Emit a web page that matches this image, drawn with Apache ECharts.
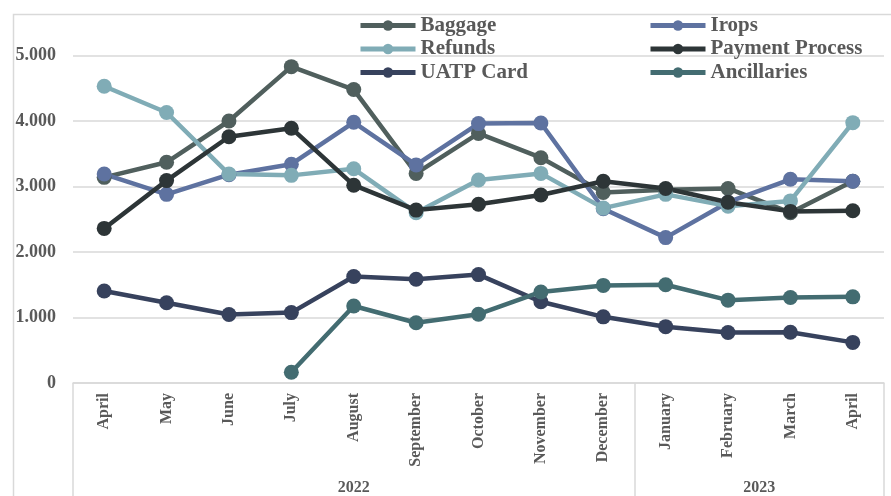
<!DOCTYPE html>
<html>
<head>
<meta charset="utf-8">
<script src="https://cdn.jsdelivr.net/npm/echarts@6/dist/echarts.min.js"></script>
<style>
  html, body { margin: 0; padding: 0; background: #ffffff; }
  #chart { width: 891px; height: 496px; }
</style>
</head>
<body>
<div id="chart"></div>
<script>
// Monthly request volumes, April 2022 – April 2023
const months = ['April', 'May', 'June', 'July', 'August', 'September', 'October',
  'November', 'December', 'January', 'February', 'March', 'April'];
const yearLabels = ['2022', '2023'];
const yearSpans = [9, 4];            // number of months under each year

const baggage        = [3140, 3370, 4000, 4830, 4480, 3200, 3810, 3440, 2910, 2950, 2970, 2600, 3080];
const irops          = [3190, 2880, 3180, 3340, 3980, 3330, 3960, 3970, 2660, 2220, 2760, 3110, 3080];
const refunds        = [4530, 4130, 3190, 3170, 3270, 2600, 3100, 3200, 2670, 2880, 2700, 2780, 3975];
const paymentProcess = [2360, 3090, 3760, 3890, 3020, 2640, 2730, 2870, 3080, 2970, 2760, 2620, 2630];
const uatpCard       = [1405, 1225, 1045, 1075, 1625, 1585, 1655, 1240, 1010, 860, 770, 775, 620];
const ancillaries    = [null, null, null, 165, 1175, 920, 1050, 1390, 1490, 1500, 1265, 1305, 1315];

const yTicks = [0, 1000, 2000, 3000, 4000, 5000];

const seriesDefs = [
  { name: 'Baggage',         data: baggage,        color: '#505f5d' },
  { name: 'Irops',           data: irops,          color: '#5e72a0' },
  { name: 'Refunds',         data: refunds,        color: '#80acb6' },
  { name: 'Payment Process', data: paymentProcess, color: '#2d3537' },
  { name: 'UATP Card',       data: uatpCard,       color: '#37425d' },
  { name: 'Ancillaries',     data: ancillaries,    color: '#436c71' }
];

// year group boundaries and centres in month units
const groupEdges = [0];
const groupCentres = [];
yearSpans.forEach(function (n) {
  const start = groupEdges[groupEdges.length - 1];
  groupCentres.push(start + n / 2);
  groupEdges.push(start + n);
});

const serif = '"Liberation Serif", "Times New Roman", serif';
const textGrey = '#595959';
const lineGrey = '#d9d9d9';

const legendText = { fontFamily: serif, fontWeight: 'bold', fontSize: 21, color: textGrey };
function legendColumn(names, left) {
  return {
    orient: 'vertical', left: left, top: 15, padding: 0,
    itemWidth: 55, itemHeight: 13, itemGap: 2.5,
    lineStyle: { width: 5 },
    data: names, textStyle: legendText, selectedMode: false
  };
}

const chart = echarts.init(document.getElementById('chart'), null, { renderer: 'canvas' });
chart.setOption({
  animation: false,
  backgroundColor: '#ffffff',
  graphic: [{
    type: 'rect', left: 11, top: 12, silent: true,
    shape: { width: 900, height: 520 },
    style: { fill: 'none', stroke: lineGrey, lineWidth: 1.5 }
  }],
  legend: [
    legendColumn(['Baggage', 'Refunds', 'UATP Card'], 358),
    legendColumn(['Irops', 'Payment Process', 'Ancillaries'], 648)
  ],
  grid: { left: 73, right: 7, top: 55.5, bottom: 111, containLabel: false },
  xAxis: [{
    type: 'category',
    data: months,
    boundaryGap: true,
    axisLine: { show: true, lineStyle: { color: lineGrey, width: 1.5 } },
    axisTick: { show: false },
    axisLabel: {
      interval: 0, rotate: 90, margin: 10,
      fontFamily: serif, fontWeight: 'bold', fontSize: 16, color: textGrey
    },
    splitLine: { show: false }
  }, {
    type: 'value',
    position: 'bottom',
    min: 0, max: months.length,
    axisLine: { show: false },
    splitLine: { show: false },
    axisTick: {
      show: true, inside: false, length: 115,
      customValues: groupEdges,
      lineStyle: { color: lineGrey, width: 1.5 }
    },
    axisLabel: {
      show: true, margin: 97,
      customValues: groupCentres,
      formatter: function (v) {
        return yearLabels[groupCentres.indexOf(v)] || '';
      },
      fontFamily: serif, fontWeight: 'bold', fontSize: 16, color: textGrey
    }
  }],
  yAxis: {
    type: 'value',
    min: yTicks[0], max: yTicks[yTicks.length - 1], interval: 1000,
    axisLine: { show: false },
    axisTick: { show: false },
    splitLine: { show: true, lineStyle: { color: lineGrey, width: 1.5 } },
    axisLabel: {
      margin: 17,
      fontFamily: serif, fontWeight: 'bold', fontSize: 18, color: textGrey,
      formatter: function (v) {
        return String(v).replace(/\B(?=(\d{3})+(?!\d))/g, '.');
      }
    }
  },
  series: seriesDefs.map(function (s) {
    return {
      name: s.name,
      type: 'line',
      xAxisIndex: 0,
      data: s.data,
      connectNulls: false,
      symbol: 'circle',
      symbolSize: 15,
      showSymbol: true,
      lineStyle: { color: s.color, width: 4.5 },
      itemStyle: { color: s.color },
      emphasis: { disabled: true }
    };
  })
});
</script>
</body>
</html>
